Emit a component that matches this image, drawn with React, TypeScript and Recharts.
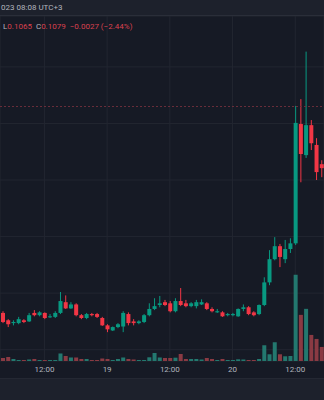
import {
  ComposedChart,
  Bar,
  Cell,
  XAxis,
  YAxis,
  CartesianGrid,
  ReferenceLine,
} from 'recharts';

const TIMES = [
  '18 04:00', '18 05:00', '18 06:00', '18 07:00', '18 08:00', '18 09:00', '18 10:00', '18 11:00',
  '18 12:00', '18 13:00', '18 14:00', '18 15:00', '18 16:00', '18 17:00', '18 18:00', '18 19:00',
  '18 20:00', '18 21:00', '18 22:00', '18 23:00',
  '19 00:00', '19 01:00', '19 02:00', '19 03:00', '19 04:00', '19 05:00', '19 06:00', '19 07:00',
  '19 08:00', '19 09:00', '19 10:00', '19 11:00', '19 12:00', '19 13:00', '19 14:00', '19 15:00',
  '19 16:00', '19 17:00', '19 18:00', '19 19:00', '19 20:00', '19 21:00', '19 22:00', '19 23:00',
  '20 00:00', '20 01:00', '20 02:00', '20 03:00', '20 04:00', '20 05:00', '20 06:00', '20 07:00',
  '20 08:00', '20 09:00', '20 10:00', '20 11:00', '20 12:00', '20 13:00', '20 14:00', '20 15:00',
  '20 16:00', '20 17:00',
];

const OPEN = [
  0.0815, 0.0802, 0.0797, 0.0797, 0.0802, 0.0800, 0.0815, 0.0811, 0.0815, 0.0808,
  0.0808, 0.0815, 0.0834, 0.0823, 0.0830, 0.0811, 0.0806, 0.0813, 0.0813, 0.0806,
  0.0793, 0.0784, 0.0790, 0.0791, 0.0813, 0.0800, 0.0797, 0.0799, 0.0811, 0.0822,
  0.0829, 0.0834, 0.0832, 0.0818, 0.0836, 0.0832, 0.0827, 0.0827, 0.0830, 0.0832,
  0.0822, 0.0816, 0.0816, 0.0811, 0.0811, 0.0809, 0.0822, 0.0825, 0.0816, 0.0813,
  0.0829, 0.0869, 0.0910, 0.0933, 0.0910, 0.0928, 0.0938, 0.1149, 0.1094, 0.1147,
  0.1112, 0.1078,
];
const HIGH = [
  0.0818, 0.0804, 0.0802, 0.0808, 0.0804, 0.0815, 0.0820, 0.0818, 0.0816, 0.0813,
  0.0818, 0.0852, 0.0846, 0.0834, 0.0832, 0.0813, 0.0815, 0.0815, 0.0815, 0.0808,
  0.0795, 0.0791, 0.0797, 0.0818, 0.0816, 0.0804, 0.0802, 0.0813, 0.0832, 0.0841,
  0.0845, 0.0838, 0.0836, 0.0841, 0.0859, 0.0838, 0.0834, 0.0838, 0.0839, 0.0834,
  0.0825, 0.0822, 0.0818, 0.0815, 0.0815, 0.0823, 0.0830, 0.0827, 0.0818, 0.0830,
  0.0878, 0.0926, 0.0949, 0.0937, 0.0944, 0.0947, 0.1181, 0.1193, 0.1277, 0.1156,
  0.1124, 0.1085,
];
const LOW = [
  0.0797, 0.0790, 0.0793, 0.0795, 0.0797, 0.0799, 0.0809, 0.0809, 0.0804, 0.0806,
  0.0806, 0.0813, 0.0822, 0.0822, 0.0809, 0.0804, 0.0804, 0.0809, 0.0806, 0.0792,
  0.0781, 0.0783, 0.0788, 0.0781, 0.0793, 0.0793, 0.0795, 0.0797, 0.0809, 0.0820,
  0.0825, 0.0827, 0.0816, 0.0816, 0.0827, 0.0825, 0.0825, 0.0823, 0.0829, 0.0820,
  0.0816, 0.0815, 0.0808, 0.0809, 0.0809, 0.0808, 0.0818, 0.0811, 0.0809, 0.0811,
  0.0827, 0.0864, 0.0908, 0.0896, 0.0903, 0.0921, 0.0935, 0.1046, 0.1089, 0.1103,
  0.1050, 0.1055,
];
const CLOSE = [
  0.0799, 0.0795, 0.0799, 0.0804, 0.0799, 0.0811, 0.0811, 0.0816, 0.0806, 0.0809,
  0.0815, 0.0836, 0.0823, 0.0830, 0.0811, 0.0806, 0.0813, 0.0811, 0.0808, 0.0793,
  0.0786, 0.0790, 0.0795, 0.0815, 0.0797, 0.0797, 0.0800, 0.0811, 0.0822, 0.0827,
  0.0832, 0.0829, 0.0818, 0.0836, 0.0829, 0.0827, 0.0832, 0.0834, 0.0834, 0.0822,
  0.0818, 0.0818, 0.0809, 0.0813, 0.0813, 0.0822, 0.0825, 0.0813, 0.0811, 0.0829,
  0.0869, 0.0910, 0.0933, 0.0914, 0.0928, 0.0938, 0.1151, 0.1096, 0.1147, 0.1115,
  0.1064, 0.1071,
];
const VOLUME = [
  30, 40, 20, 10, 10, 15, 20, 10, 10, 10,
  10, 75, 50, 35, 35, 20, 20, 10, 10, 25,
  20, 10, 20, 35, 20, 15, 10, 10, 37, 80,
  35, 30, 30, 33, 70, 20, 20, 20, 15, 30,
  20, 10, 20, 10, 10, 17, 15, 10, 10, 20,
  157, 67, 187, 67, 47, 50, 860, 460, 520, 260,
  220, 140,
];

const X_TICKS = ['18 12:00', '19 00:00', '19 12:00', '20 00:00', '20 12:00'];
const PRICE_GRID = [0.075, 0.085, 0.095, 0.105, 0.115, 0.125];
const PRICE_LINE = 0.118;

const UP = '#089981';
const DOWN = '#f23645';
const VOL_UP = '#23786f';
const VOL_DOWN = '#8a3a43';
const LEGEND_RED = '#d9414f';
const FONT = 'Roboto, "Noto Sans", sans-serif';

const rows = TIMES.map((time, i) => ({
  time,
  open: OPEN[i],
  high: HIGH[i],
  low: LOW[i],
  close: CLOSE[i],
  range: [LOW[i], HIGH[i]],
  volume: VOLUME[i],
  up: CLOSE[i] >= OPEN[i],
}));

// candle drawn inside the [low, high] bar box
function Candle(props: any) {
  const { x, y, width, height, payload } = props;
  if (x == null || y == null) return null;
  const { open, close, high, low, up } = payload;
  const color = up ? UP : DOWN;
  const h = Math.abs(height);
  const top = Math.min(y, y + height);
  const k = h / (high - low || 1e-9);
  const bodyTop = top + (high - Math.max(open, close)) * k;
  const bodyBottom = top + (high - Math.min(open, close)) * k;
  const cx = x + width / 2;
  return (
    <g>
      <line x1={cx} x2={cx} y1={top} y2={top + h} stroke={color} strokeWidth={1} />
      <rect
        x={x}
        y={bodyTop}
        width={width}
        height={Math.max(1, bodyBottom - bodyTop)}
        fill={color}
      />
    </g>
  );
}

const fmtTick = (t: string) => (t.endsWith('00:00') ? t.slice(0, 2) : t.slice(3));

export default function App() {
  return (
    <div
      style={{
        position: 'fixed',
        left: 0,
        top: 0,
        width: 324,
        height: 400,
        background: '#161a25',
        overflow: 'hidden',
        fontFamily: FONT,
      }}
    >
      <div
        style={{
          position: 'absolute',
          left: 0,
          top: 0,
          width: 324,
          height: 16,
          background: '#1d212c',
          borderBottom: '1px solid #2a2e39',
          boxSizing: 'border-box',
          color: '#b2b5be',
          fontSize: 8,
          lineHeight: '16px',
          paddingLeft: 1,
          whiteSpace: 'nowrap',
        }}
      >
        023 08:08 UTC+3
      </div>

      <div style={{ position: 'absolute', left: 0, top: 16 }}>
        <ComposedChart
          width={324}
          height={362}
          data={rows}
          margin={{ top: 0, right: 0, left: 0, bottom: 0 }}
        >
          <CartesianGrid stroke="#222631" xAxisId="price" yAxisId="price" />
          <XAxis
            xAxisId="price"
            dataKey="time"
            ticks={X_TICKS}
            interval={0}
            tickFormatter={fmtTick}
            axisLine={false}
            tickLine={false}
            tickSize={0}
            tickMargin={5}
            height={17}
            tick={{ fill: '#b2b5be', fontSize: 8, fontFamily: FONT }}
          />
          <XAxis xAxisId="vol" dataKey="time" hide />
          <YAxis yAxisId="price" domain={[0.073, 0.134]} ticks={PRICE_GRID} hide />
          <YAxis yAxisId="vol" domain={[0, (max: number) => max * 4]} hide />
          <ReferenceLine
            xAxisId="price"
            yAxisId="price"
            y={PRICE_LINE}
            stroke="#6a2e3b"
            strokeDasharray="2 2"
          />
          <Bar xAxisId="vol" yAxisId="vol" dataKey="volume" barSize={4} isAnimationActive={false}>
            {rows.map((r, i) => (
              <Cell key={i} fill={r.up ? VOL_UP : VOL_DOWN} />
            ))}
          </Bar>
          <Bar
            xAxisId="price"
            yAxisId="price"
            dataKey="range"
            barSize={4}
            shape={Candle}
            isAnimationActive={false}
          />
        </ComposedChart>
      </div>

      <div
        style={{
          position: 'absolute',
          left: 3,
          top: 21,
          fontSize: 8,
          lineHeight: '12px',
          whiteSpace: 'nowrap',
          color: '#b2b5be',
        }}
      >
        L<span style={{ color: LEGEND_RED }}>0.1065</span>
        <span style={{ marginLeft: 4 }}>C</span>
        <span style={{ color: LEGEND_RED }}>0.1079</span>
        <span style={{ color: LEGEND_RED, marginLeft: 4 }}>−0.0027 (−2.44%)</span>
      </div>

      <div
        style={{
          position: 'absolute',
          left: 0,
          top: 378,
          width: 324,
          height: 22,
          background: '#1d212c',
          borderTop: '1px solid #242833',
          boxSizing: 'border-box',
        }}
      />
    </div>
  );
}
